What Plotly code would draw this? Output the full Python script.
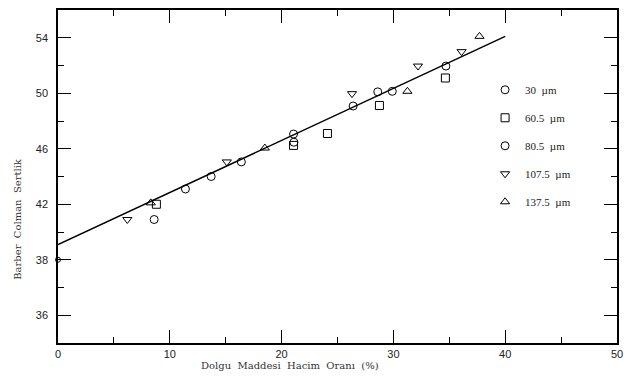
import plotly.graph_objects as go

# ---- data ----
x_30 = [11.4, 16.4, 21.07, 28.6, 34.7]
y_30 = [43.1, 45.05, 47.06, 50.1, 51.96]

x_605 = [8.8, 21.07, 24.1, 28.75, 34.65]
y_605 = [42.0, 46.24, 47.1, 49.12, 51.1]

x_805 = [8.6, 13.7, 21.1, 26.4, 29.9]
y_805 = [40.9, 44.0, 46.47, 49.08, 50.14]

x_1075 = [6.2, 15.1, 26.3, 32.2, 36.1]
y_1075 = [40.9, 45.05, 49.97, 51.96, 53.0]

x_1375 = [8.3, 18.5, 31.25, 37.7]
y_1375 = [42.1, 46.05, 50.14, 54.1]

x_zero = [0]
y_zero = [38.0]

fit_x = [0, 40]
fit_y = [39.1, 54.1]

x_ticks = [0, 10, 20, 30, 40, 50]
x_minor = [5, 15, 25, 35, 45]
y_ticks = [34, 38, 42, 46, 50, 54]
y_ticktext = ["36", "38", "42", "46", "50", "54"]
y_minor = [36, 40, 44, 48, 52]

series = [
    ("30  µm", x_30, y_30, "circle-open"),
    ("60.5  µm", x_605, y_605, "square-open"),
    ("80.5  µm", x_805, y_805, "circle-open"),
    ("107.5  µm", x_1075, y_1075, "triangle-down-open"),
    ("137.5  µm", x_1375, y_1375, "triangle-up-open"),
]

NB = "\u00a0"

fig = go.Figure()

fig.add_trace(go.Scatter(x=fit_x, y=fit_y, mode="lines",
                         line=dict(color="black", width=1.5),
                         showlegend=False, hoverinfo="skip"))

for i, (name, xs, ys, sym) in enumerate(series):
    fig.add_trace(go.Scatter(
        x=xs, y=ys, mode="markers", name=name.replace("  ", NB * 2),
        legendgroup=f"g{i}",
        marker=dict(symbol=sym, size=8, color="black",
                    line=dict(width=1, color="black")),
    ))

fig.add_trace(go.Scatter(x=x_zero, y=y_zero, mode="markers", showlegend=False,
                         cliponaxis=False,
                         marker=dict(symbol="circle-open", size=5, color="black",
                                     line=dict(width=1, color="black"))))

tickfont = dict(family="Liberation Sans", size=11, color="#222")

fig.update_xaxes(
    range=[0, 50], tickmode="array", tickvals=x_ticks,
    ticks="inside", ticklen=13, tickwidth=1.2, tickcolor="black",
    showline=True, linecolor="black", linewidth=1.5, mirror="allticks",
    showgrid=False, zeroline=False, tickfont=tickfont,
    minor=dict(tickmode="array", tickvals=x_minor, ticks="inside",
               ticklen=6, tickwidth=1, tickcolor="black", showgrid=False),
)
fig.update_yaxes(
    range=[32, 56], tickmode="array", tickvals=y_ticks, ticktext=y_ticktext,
    ticks="inside", ticklen=13, tickwidth=1.2, tickcolor="black",
    showline=True, linecolor="black", linewidth=1.5, mirror="allticks",
    showgrid=False, zeroline=False, tickfont=tickfont, ticklabelstandoff=6,
    minor=dict(tickmode="array", tickvals=y_minor, ticks="inside",
               ticklen=6, tickwidth=1, tickcolor="black", showgrid=False),
)

fig.update_layout(
    width=632, height=380,
    margin=dict(l=50, r=23, t=0, b=45),
    paper_bgcolor="white", plot_bgcolor="white",
    showlegend=True,
    legend=dict(x=0.764, y=0.804, xanchor="left", yanchor="top",
                bgcolor="rgba(0,0,0,0)", tracegroupgap=9,
                font=dict(family="Liberation Serif", size=11, color="#222")),
    annotations=[
        dict(text=f"Dolgu{NB*2}Maddesi{NB*2}Hacim{NB*2}Oranı{NB*2}(%)",
             xref="paper", yref="paper",
             x=0.415, y=-0.068, xanchor="center", yanchor="middle",
             showarrow=False,
             font=dict(family="DejaVu Serif", size=10, color="#333")),
        dict(text=f"Barber{NB*2}Colman{NB*2}Sertlik", xref="paper", yref="paper",
             x=-0.0716, y=0.373, xanchor="center", yanchor="middle",
             textangle=-90, showarrow=False,
             font=dict(family="DejaVu Serif", size=10, color="#333")),
    ],
)

fig.write_html("out.html")
